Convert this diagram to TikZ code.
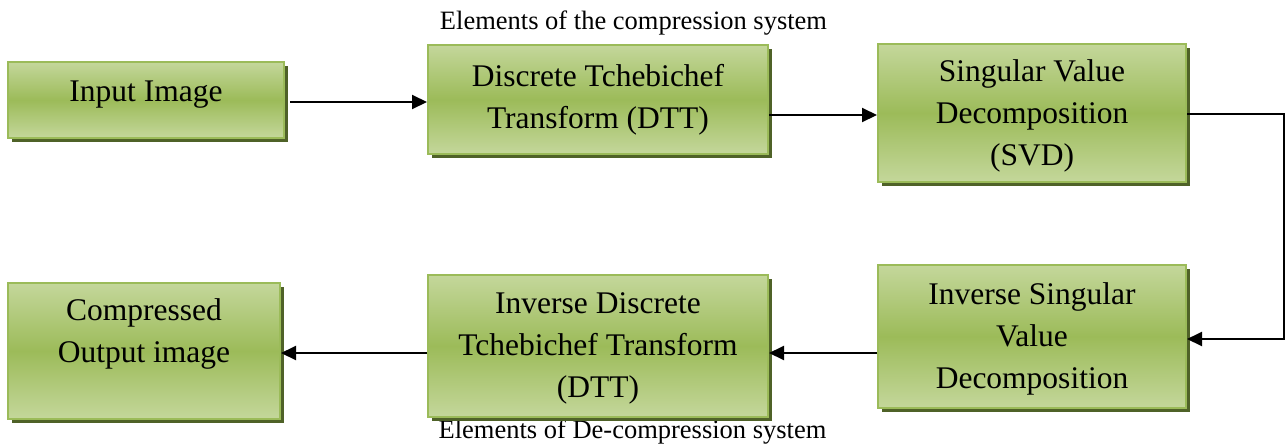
\documentclass[tikz,border=0pt]{standalone}
\usepackage{fontspec}
\setmainfont{Liberation Serif}
\usetikzlibrary{arrows.meta,shadows,calc}
\definecolor{gl}{HTML}{C4D79B}
\definecolor{gm}{HTML}{9CBB59}
\definecolor{gb}{HTML}{9BBB59}
\definecolor{gs}{HTML}{4F6228}
\begin{document}
\begin{tikzpicture}[x=1pt,y=-1pt,
  box/.style={draw=gb, line width=2pt, top color=gl, bottom color=gl, middle color=gm,
    align=center, inner sep=0pt, font=\fontsize{31.5}{42}\selectfont,
    drop shadow={shadow xshift=3.5pt, shadow yshift=-3.5pt, fill=gs, opacity=1}},
  conn/.style={line width=2pt, -{Triangle[length=15pt,width=14pt]}},
  lbl/.style={anchor=base, inner sep=0pt, font=\fontsize{26.5}{30}\selectfont}
]
\useasboundingbox (0,0) rectangle (1287,445);
\node[lbl] (t1) at (633.5,29) {Elements of the compression system};
\node[lbl] (t2) at (632.5,438) {Elements of De-compression system};

\node[box, minimum width=276, minimum height=76, text depth=17pt] (b1) at (146,100) {Input Image};
\node[box, minimum width=340, minimum height=109] (b2) at (598,99.5) {Discrete Tchebichef\\Transform (DTT)};
\node[box, minimum width=308, minimum height=138, text depth=0pt] (b3) at (1032,113) {Singular Value\\Decomposition\\(SVD)};
\node[box, minimum width=308, minimum height=143, text depth=2pt] (b4) at (1032,336.5) {Inverse Singular\\Value\\Decomposition};
\node[box, minimum width=272, minimum height=136, text depth=41pt] (b5) at (144,351) {Compressed\\Output image};
\node[box, minimum width=340, minimum height=142, text depth=2pt] (b6) at (598,346) {Inverse Discrete\\Tchebichef Transform\\(DTT)};

\coordinate (c1) at (1284,114);
\coordinate (c2) at (1284,339);
\coordinate (r1) at (0,102);
\coordinate (r2) at (0,115);
\coordinate (r3) at (0,353);

\draw[conn] ($(b1.east|-r1)+(5,0)$) -- (b2.west|-r1);
\draw[conn] (b2.east|-r2) -- (b3.west|-r2);
\draw[conn] (b3.east|-c1) -- (c1) -- (c2) -- (b4.east|-c2);
\draw[conn] (b4.west|-r3) -- (b6.east|-r3);
\draw[conn] (b6.west|-r3) -- (b5.east|-r3);
\end{tikzpicture}
\end{document}
